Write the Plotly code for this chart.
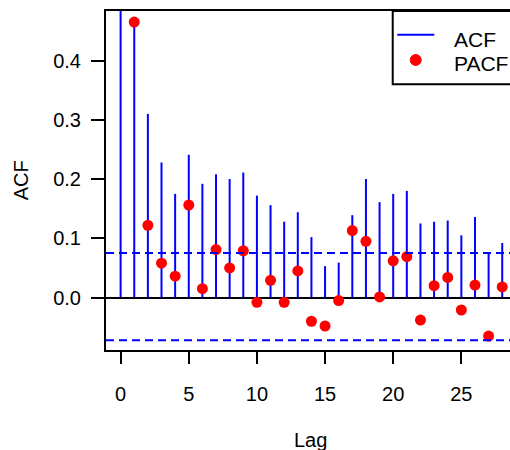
"""
ACF bars with PACF points overlay, recreated with Plotly.
"""

import plotly.graph_objects as go

# lags 0..28
lags = list(range(0, 29))

acf_values = [1.0, 0.465, 0.310, 0.228, 0.175, 0.241, 0.192, 0.208, 0.200, 0.211,
              0.172, 0.156, 0.128, 0.144, 0.102, 0.053, 0.059, 0.139, 0.200, 0.161,
              0.175, 0.180, 0.125, 0.128, 0.130, 0.105, 0.136, 0.075, 0.092]

# PACF starts at lag 1
pacf_lags = list(range(1, 29))
pacf_values = [0.465, 0.122, 0.058, 0.036, 0.156, 0.015, 0.081, 0.050, 0.079, -0.008,
               0.029, -0.008, 0.045, -0.040, -0.048, -0.005, 0.113, 0.095, 0.001, 0.062,
               0.069, -0.038, 0.020, 0.034, -0.021, 0.021, -0.065, 0.018]

ci_upper = 0.075
ci_lower = -0.072

x_ticks = [0, 5, 10, 15, 20, 25]
y_ticks = [0.0, 0.1, 0.2, 0.3, 0.4]

legend_labels = ['ACF', 'PACF']

font_family = 'Liberation Sans, Arial, sans-serif'
blue = '#0000ff'
red = '#ff0000'

# vertical segments for the ACF "bars"
bar_x = []
bar_y = []
for lag, val in zip(lags, acf_values):
    bar_x += [lag, lag, None]
    bar_y += [0, val, None]

fig = go.Figure()

fig.add_trace(go.Scatter(
    x=bar_x,
    y=bar_y,
    mode='lines',
    name=legend_labels[0],
    line=dict(color=blue, width=2),
    showlegend=False
))

fig.add_trace(go.Scatter(
    x=pacf_lags,
    y=pacf_values,
    mode='markers',
    name=legend_labels[1],
    marker=dict(color=red, size=11),
    showlegend=False
))

# confidence bounds
for ci in (ci_upper, ci_lower):
    fig.add_shape(type='line', xref='paper', x0=0, x1=1, yref='y', y0=ci, y1=ci,
                  line=dict(color=blue, width=2, dash='8px,5px'))

# legend box drawn by hand (R-style, runs off the right edge)
fig.add_shape(type='rect', xref='paper', yref='paper', x0=0.7097, x1=1.1, y0=0.7838, y1=1.0,
              line=dict(color='black', width=2), fillcolor='white', layer='above')
fig.add_shape(type='line', xref='paper', yref='paper', x0=0.7210, x1=0.8126, y0=0.9301, y1=0.9301,
              line=dict(color=blue, width=2), layer='above')
fig.add_shape(type='circle', xref='paper', yref='paper', x0=0.7530, x1=0.7802, y0=0.8393, y1=0.8717,
              line=dict(color=red, width=1), fillcolor=red, layer='above')

fig.update_layout(
    width=510,
    height=450,
    margin=dict(l=106, r=0, t=11, b=100, autoexpand=False),
    paper_bgcolor='white',
    plot_bgcolor='white',
    font=dict(family=font_family, size=21, color='black'),
    showlegend=False,
    annotations=[
        dict(text=legend_labels[0], xref='paper', yref='paper', x=0.8560, y=0.916,
             showarrow=False, xanchor='left', yanchor='middle', font=dict(size=21)),
        dict(text=legend_labels[1], xref='paper', yref='paper', x=0.8560, y=0.8437,
             showarrow=False, xanchor='left', yanchor='middle', font=dict(size=21)),
        dict(text='Lag', xref='paper', yref='paper', x=0.507, y=-0.265,
             showarrow=False, xanchor='center', yanchor='middle', font=dict(size=20)),
        dict(text='ACF', xref='paper', yref='paper', x=-0.21, y=0.501,
             showarrow=False, xanchor='center', yanchor='middle', textangle=-90,
             font=dict(size=20)),
    ],
)

fig.update_xaxes(
    range=[-1.073, 28.57],
    tickmode='array', tickvals=x_ticks,
    ticks='outside', ticklen=12, tickwidth=2, tickcolor='black',
    showline=True, mirror=True, linecolor='black', linewidth=2,
    showgrid=False, zeroline=False,
    ticklabelstandoff=13,
    tickfont=dict(size=20),
)

fig.update_yaxes(
    range=[-0.0885, 0.4836],
    tickmode='array', tickvals=y_ticks,
    tickformat='.1f',
    ticks='outside', ticklen=13, tickwidth=2, tickcolor='black',
    showline=True, mirror=False, linecolor='black', linewidth=2,
    showgrid=False, zeroline=True, zerolinecolor='black', zerolinewidth=2,
    ticklabelstandoff=6,
    tickfont=dict(size=20),
)

# drop the default 8px page margin so the figure fills the window
fig.write_html("out.html", config={'displayModeBar': False},
               post_script="document.body.style.margin='0px';")
